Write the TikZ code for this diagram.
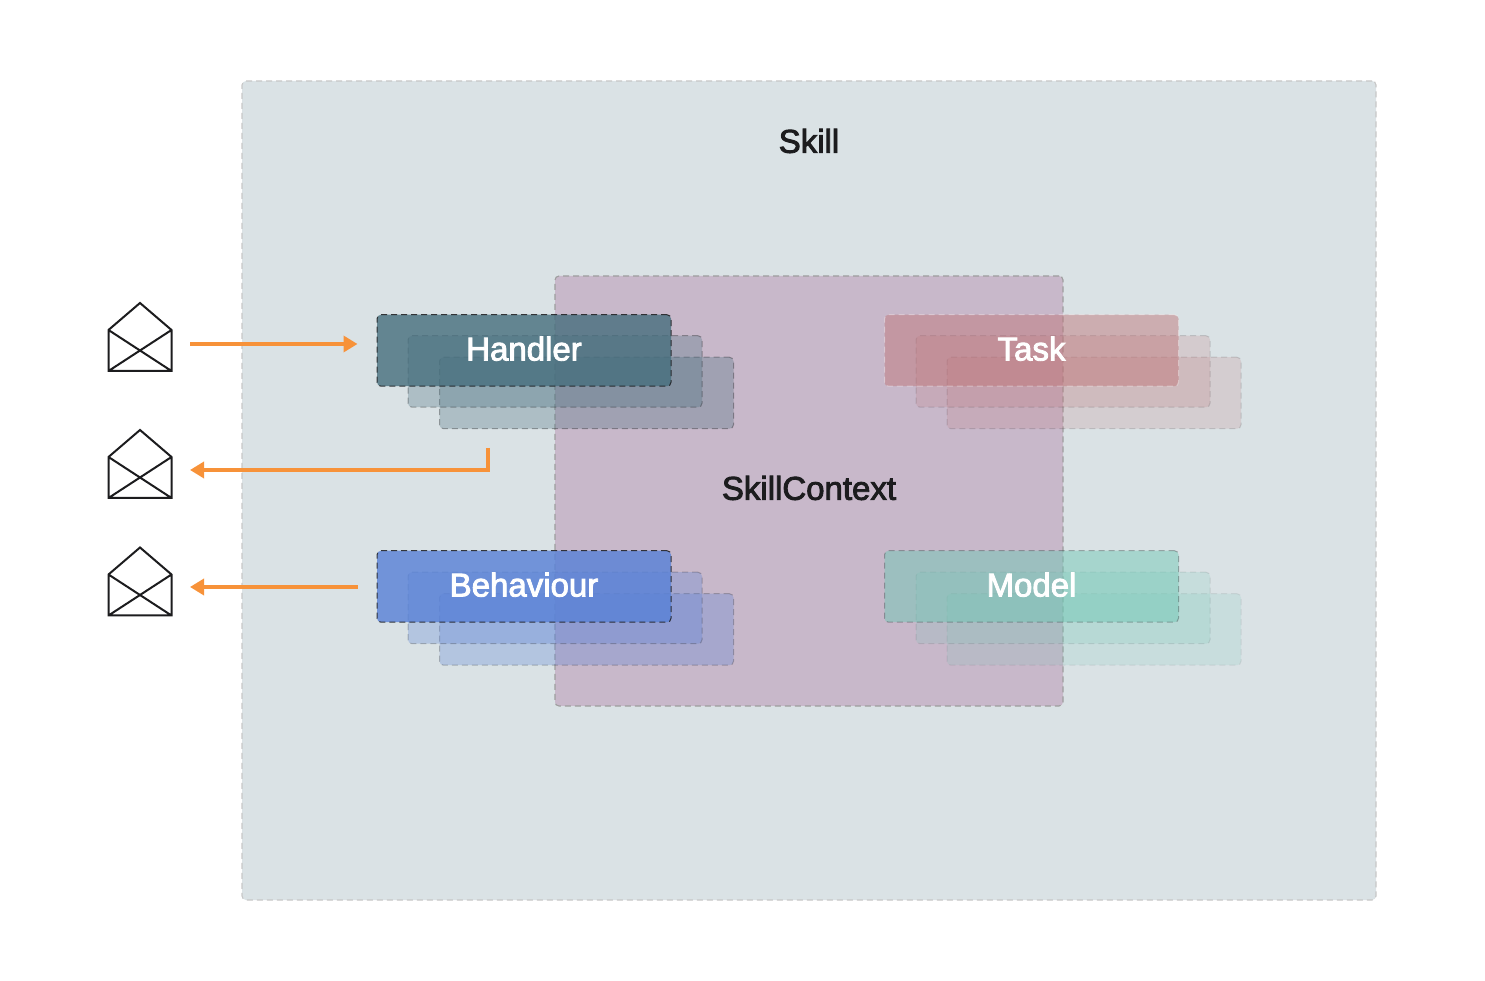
\documentclass[tikz,border=0pt]{standalone}
\usepackage{fontspec}
\setmainfont{Liberation Sans}[FakeBold=2.6]
\usepackage{xcolor}
\usetikzlibrary{positioning,arrows.meta,calc}
\definecolor{skillbg}{RGB}{218,226,229}
\definecolor{ctxbg}{RGB}{200,184,202}
\definecolor{handlerc}{RGB}{70,110,125}
\definecolor{behavc}{RGB}{90,130,215}
\definecolor{taskc}{RGB}{190,115,118}
\definecolor{modelc}{RGB}{110,200,180}
\definecolor{arrowc}{RGB}{247,146,57}
\definecolor{inkc}{RGB}{28,28,30}
\tikzset{
  card/.style={draw=inkc,dashed,dash pattern=on 6pt off 4pt,line width=1pt,rounded corners=4pt,
    minimum width=294pt,minimum height=71.5pt,inner sep=0pt},
  front/.style={card,font=\fontsize{33}{33}\selectfont,text=white,text opacity=1,text height=24pt,text depth=4pt},
  pane/.style={draw,dashed,dash pattern=on 6pt off 4pt,line width=1.1pt,rounded corners=4pt,inner sep=0pt},
  title/.style={font=\fontsize{33}{33}\selectfont,text=inkc},
  ar/.style={-{Triangle[length=14pt,width=16pt]},line width=3.4pt,arrowc},
  envelope/.pic={
    \draw[inkc,line width=2pt,line join=miter]
      (-31.5,0) -- (0,27) -- (31.5,0) -- (31.5,-41) -- (-31.5,-41) -- cycle
      (-31.5,0) -- (31.5,-41) (31.5,0) -- (-31.5,-41);
  },
}
\begin{document}
\begin{tikzpicture}[x=1pt,y=1pt]
  \useasboundingbox (0,0) rectangle (1485,980);
  \node[pane,fill=skillbg,draw=black!22,minimum width=1134pt,minimum height=819pt] (skill) at (809,489.5) {};
  \node[title] (skilltxt) at (809,839) {Skill};
  \node[pane,fill=ctxbg,draw=black!38,minimum width=508pt,minimum height=430pt] (ctx) at (809,489) {};
  \node[title] (ctxtxt) at (809,492) {SkillContext};
  % handler stack
  \node[card,fill=handlerc,fill opacity=.3,draw opacity=.35] (hback) at (586.5,587) {};
  \node[card,fill=handlerc,fill opacity=.3,draw opacity=.35] (hmid) at (555,608.5) {};
  \node[front,fill=handlerc,fill opacity=.8,draw opacity=.85] (handler) at (524,629.5) {Handler};
  % task stack
  \node[card,fill=taskc,fill opacity=.18,draw opacity=.15] (tback) at (1094,587) {};
  \node[card,fill=taskc,fill opacity=.2,draw opacity=.15] (tmid) at (1063,608.5) {};
  \node[front,fill=taskc,fill opacity=.47,draw=white,draw opacity=.35] (task) at (1031.5,629.5) {Task};
  % behaviour stack
  \node[card,fill=behavc,fill opacity=.3,draw opacity=.25] (bback) at (586.5,350.5) {};
  \node[card,fill=behavc,fill opacity=.3,draw opacity=.25] (bmid) at (555,372) {};
  \node[front,fill=behavc,fill opacity=.82,draw opacity=.85] (behaviour) at (524,393.5) {Behaviour};
  % model stack
  \node[card,fill=modelc,fill opacity=.16,draw opacity=.08] (mback) at (1094,350.5) {};
  \node[card,fill=modelc,fill opacity=.18,draw opacity=.1] (mmid) at (1063,372) {};
  \node[front,fill=modelc,fill opacity=.48,draw opacity=.3] (model) at (1031.5,393.5) {Model};
  % envelopes
  \pic at (140,650) {envelope};
  \pic at (140,523) {envelope};
  \pic at (140,405.5) {envelope};
  \coordinate (hin) at ([xshift=-19pt,yshift=6.5pt]handler.west);
  \coordinate (bout) at ([xshift=-19pt,yshift=-.5pt]behaviour.west);
  \coordinate (hout) at (488,532);
  \coordinate (msgin) at (190,636);
  \coordinate (msgout) at (190,510);
  \coordinate (msgact) at (190,393);
  \draw[ar] (msgin) -- (hin);
  \draw[ar] (hout) |- (msgout);
  \draw[ar] (bout) -- (msgact);
\end{tikzpicture}
\end{document}
